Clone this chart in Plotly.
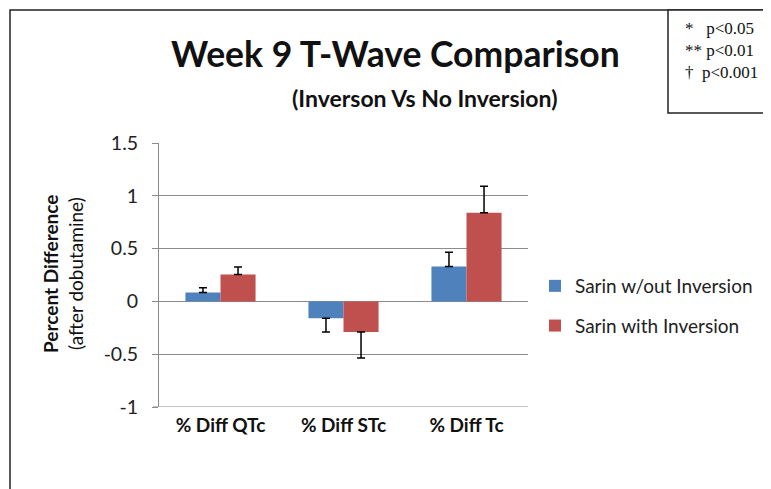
import plotly.graph_objects as go

categories = ["% Diff QTc", "% Diff STc", "% Diff Tc"]
series_names = ["Sarin w/out Inversion", "Sarin with Inversion"]
without_inv = [0.085, -0.16, 0.33]
without_err = [0.045, 0.13, 0.135]
with_inv = [0.255, -0.29, 0.84]
with_err = [0.07, 0.245, 0.25]
y_ticks = [-1, -0.5, 0, 0.5, 1, 1.5]
colors = ["#4F81BD", "#C0504D"]

W, H = 771, 489
OFF = 8  # page body margin
L, R, T, B = 159, 528, 143, 407  # plot area, screen pixels


def px(x):
    return (x - L) / (R - L)


def py(y):
    return (B - y) / (B - T)


fig = go.Figure()
for name, vals, errs, col in [
    (series_names[0], without_inv, without_err, colors[0]),
    (series_names[1], with_inv, with_err, colors[1]),
]:
    plus = [e if v >= 0 else 0 for v, e in zip(vals, errs)]
    minus = [e if v < 0 else 0 for v, e in zip(vals, errs)]
    fig.add_trace(go.Bar(
        x=categories, y=vals, name=name, marker_color=col,
        marker_line_width=0, legendgroup=name,
        error_y=dict(type="data", symmetric=False, array=plus, arrayminus=minus,
                     color="black", thickness=1.5, width=4),
    ))

font_main = "Lato, 'Open Sans', sans-serif"

fig.update_layout(
    width=W, height=H,
    margin=dict(l=L - OFF, r=W - (R - OFF), t=T - OFF, b=H - (B - OFF), pad=0),
    paper_bgcolor="white", plot_bgcolor="white",
    barmode="group", bargap=0.43, bargroupgap=0,
    font=dict(family=font_main, color="#222"),
    showlegend=True,
    legend=dict(x=px(535), y=py(267), xanchor="left", yanchor="top",
                font=dict(size=19, color="#222"), tracegroupgap=12,
                itemwidth=30, bgcolor="rgba(0,0,0,0)"),
    xaxis=dict(showgrid=False, showline=False, ticks="",
               tickfont=dict(size=19, color="#111", family=font_main, weight="bold"),
               ticklabelstandoff=5),
    yaxis=dict(range=[-1, 1.5], tickvals=y_ticks, ticktext=["-1", "-0.5", "0", "0.5", "1", "1.5"],
               showgrid=True, gridcolor="#8c8c8c", gridwidth=1,
               showline=True, linecolor="#8c8c8c", linewidth=1,
               ticks="outside", ticklen=6, tickcolor="#8c8c8c",
               zeroline=False, tickfont=dict(size=19.5, color="#222"), ticklabelstandoff=10),
)

# x-axis baseline
fig.add_shape(type="line", xref="paper", yref="y", x0=px(153), x1=1, y0=-1, y1=-1,
              line=dict(color="#8c8c8c", width=1))

# Title
fig.add_annotation(text="<b>Week 9 T-Wave Comparison</b>", xref="paper", yref="paper",
                   x=px(395), y=py(53), showarrow=False, xanchor="center", yanchor="middle",
                   font=dict(size=35.5, color="#111", family=font_main))
fig.add_annotation(text="<b>(Inverson Vs No Inversion)</b>", xref="paper", yref="paper",
                   x=px(424), y=py(98), showarrow=False, xanchor="center", yanchor="middle",
                   font=dict(size=23, color="#111", family=font_main))

# Y axis title
fig.add_annotation(text="<b>Percent Difference</b>", xref="paper", yref="paper",
                   x=px(50), y=py(274), showarrow=False, textangle=-90,
                   xanchor="center", yanchor="middle",
                   font=dict(size=19, color="#111", family=font_main))
fig.add_annotation(text="(after dobutamine)", xref="paper", yref="paper",
                   x=px(75), y=py(274), showarrow=False, textangle=-90,
                   xanchor="center", yanchor="middle",
                   font=dict(size=19, color="#111", family=font_main))

# Outer border
fig.add_shape(type="rect", xref="paper", yref="paper",
              x0=px(10), x1=px(800), y0=py(10), y1=py(520),
              line=dict(color="#222", width=1.5), fillcolor="rgba(0,0,0,0)", layer="below")

# p-value box
fig.add_shape(type="rect", xref="paper", yref="paper",
              x0=px(668), x1=px(800), y0=py(10), y1=py(113),
              line=dict(color="#222", width=1.5), fillcolor="white")
fig.add_annotation(text="*&nbsp;&nbsp; p&lt;0.05<br>** p&lt;0.01<br>†&nbsp; p&lt;0.001",
                   xref="paper", yref="paper", x=px(683), y=py(17),
                   showarrow=False, xanchor="left", yanchor="top", align="left",
                   font=dict(size=17, color="#111", family="'Liberation Serif', serif"))

fig.write_html("out.html")
